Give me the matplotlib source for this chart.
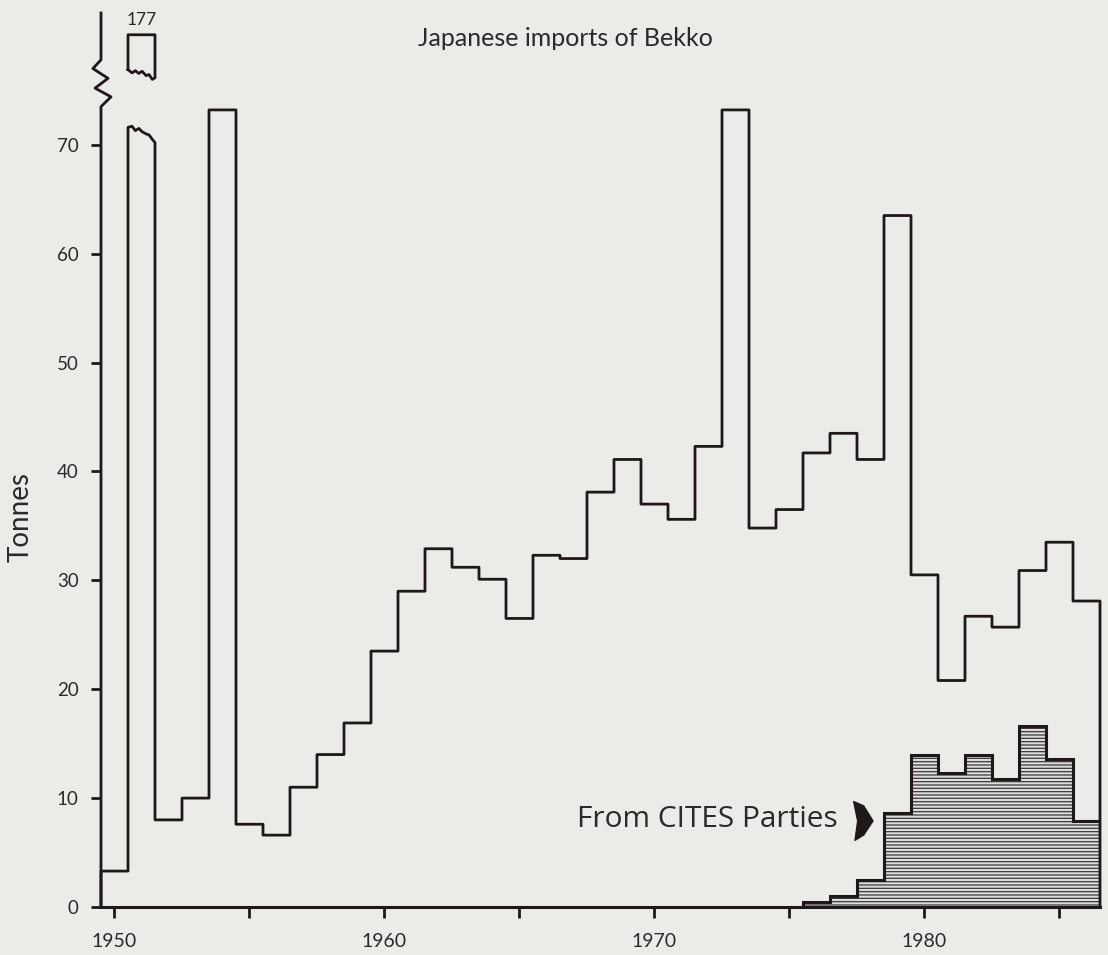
import numpy as np
import matplotlib
matplotlib.use("Agg")
import matplotlib.pyplot as plt
from matplotlib.patches import Polygon

# ---------------- data ----------------
years = list(range(1950, 1987))
total_tonnes = [3.3, 177, 8.0, 10.0, 73.2, 7.6, 6.6, 11.0, 14.0, 16.9,
                23.5, 29.0, 32.9, 31.2, 30.1, 26.5, 32.3, 32.0, 38.1, 41.1,
                37.0, 35.6, 42.3, 73.2, 34.8, 36.5, 41.7, 43.5, 41.1, 63.5,
                30.5, 20.8, 26.7, 25.7, 30.9, 33.5, 28.1]
cites_years = list(range(1976, 1987))
cites_tonnes = [0.5, 1.0, 2.5, 8.6, 14.0, 12.3, 14.0, 11.8, 16.6, 13.6, 7.9]
ytick_vals = [0, 10, 20, 30, 40, 50, 60, 70]
xtick_major = [1950, 1960, 1970, 1980]
xtick_minor = [1955, 1965, 1975, 1985]
title = "Japanese imports of Bekko"
ylabel = "Tonnes"
cites_label = "From CITES Parties"

# ---------------- style ----------------
BG = "#ebece8"
INK = "#1e1818"
TXT = "#2a2a2a"
FONT = ["Lato", "DejaVu Sans"]
plt.rcParams["font.family"] = FONT
plt.rcParams["hatch.linewidth"] = 0.9

fig = plt.figure(figsize=(11.08, 9.55), dpi=100, facecolor=BG)
ax = fig.add_axes([101 / 1108, 48 / 955, 999 / 1108, 894 / 955])
ax.set_facecolor(BG)

y_top = 82.1
ax.set_xlim(years[0] - 0.5, years[-1] + 0.5)
ax.set_ylim(0, y_top)

# break parameters (display only)
cap_low = 71.6
box_bottom = 76.9
box_top = 80.1
wave_fx = [0, .15, .27, .4, .52, .67, .78, .9, 1.0]
wave_lo = [0, .1, -.3, -.1, -.4, -.6, -.7, -1.1, -1.4]
wave_hi = [0, -.3, -.1, -.35, -.15, -.55, -.45, -.9, -.75]

edges = np.append(np.array(years) - 0.5, years[-1] + 0.5)
xs, ys = [edges[0]], [0.0]
broken = []
for i, v in enumerate(total_tonnes):
    x0, x1 = edges[i], edges[i + 1]
    if v > y_top:
        broken.append((i, v))
        for fx, dy in zip(wave_fx, wave_lo):
            xs.append(x0 + fx * (x1 - x0))
            ys.append(cap_low + dy)
    else:
        xs += [x0, x1]
        ys += [v, v]
xs.append(edges[-1]); ys.append(0.0)

# CITES hatched area
ce = np.append(np.array(cites_years) - 0.5, cites_years[-1] + 0.5)
ax.stairs(cites_tonnes, ce, baseline=0, fill=True, facecolor="#dcdcd8",
          edgecolor="#3a3a3a", hatch="-----", linewidth=0, zorder=2)
ax.stairs(cites_tonnes, ce, baseline=0, fill=False, color=INK, linewidth=2.2,
          zorder=3)

# main stair line
ax.plot(xs, ys, color=INK, linewidth=2.0, solid_joinstyle="round", zorder=4,
        clip_on=False)

# upper part of broken bar(s)
for i, v in broken:
    x0, x1 = edges[i], edges[i + 1]
    bx = [x0, x0, x1, x1]
    by = [box_bottom, box_top, box_top, box_bottom + wave_hi[-1]]
    for fx, dy in zip(wave_fx[::-1], wave_hi[::-1]):
        bx.append(x0 + fx * (x1 - x0))
        by.append(box_bottom + dy)
    ax.plot(bx, by, color=INK, linewidth=2.0, solid_joinstyle="round",
            zorder=4, clip_on=False)
    ax.text(years[i], 81.45, f"{v:g}", ha="center", va="center",
            fontsize=12.5, color=TXT)

# spines
for s in ["top", "right", "left"]:
    ax.spines[s].set_visible(False)
ax.spines["bottom"].set_linewidth(2.2)
ax.spines["bottom"].set_color(INK)

# left axis with zig-zag break
x_ax = edges[0]
zx = [0, 0, .37, -.22, .26, -.3, 0, 0]
zy = [0, 73.5, 74.4, 75.2, 76.1, 77.0, 77.8, y_top]
ax.plot([x_ax + d for d in zx], zy, color=INK, linewidth=2.0, clip_on=False,
        zorder=5, solid_joinstyle="round")

# ticks
ax.set_yticks(ytick_vals)
ax.set_yticklabels([str(v) for v in ytick_vals])
ax.set_xticks(xtick_major)
ax.set_xticklabels([str(v) for v in xtick_major])
ax.set_xticks(xtick_minor, minor=True)
ax.tick_params(axis="y", direction="out", length=7, width=2.0, color=INK,
               pad=9, labelsize=13.5, labelcolor=TXT)
ax.tick_params(axis="x", which="both", direction="out", length=8, width=2.0,
               color=INK, pad=11, labelsize=14, labelcolor=TXT)

# texts
ax.text(1966.7, 79.8, title, ha="center", va="center", fontsize=18,
        color=TXT)
fig.text(21 / 1108, 1 - 517 / 955, ylabel, rotation=90, ha="center",
         va="center", fontsize=20, color=TXT)
ax.text(1976.8, 8.0, cites_label, ha="right", va="center", fontsize=21.5,
        color=TXT, family=["Open Sans", "DejaVu Sans"])

# small black arrow pointing to hatched area
ax_arrow = [(1977.37, 9.7), (1977.75, 9.3), (1978.1, 7.9), (1977.75, 6.6),
            (1977.42, 6.1), (1977.52, 7.9)]
ax.add_patch(Polygon(ax_arrow, closed=True, facecolor=INK, edgecolor=INK,
                     linewidth=0.8, zorder=5))

fig.savefig("out.png", dpi=100, facecolor=BG)
